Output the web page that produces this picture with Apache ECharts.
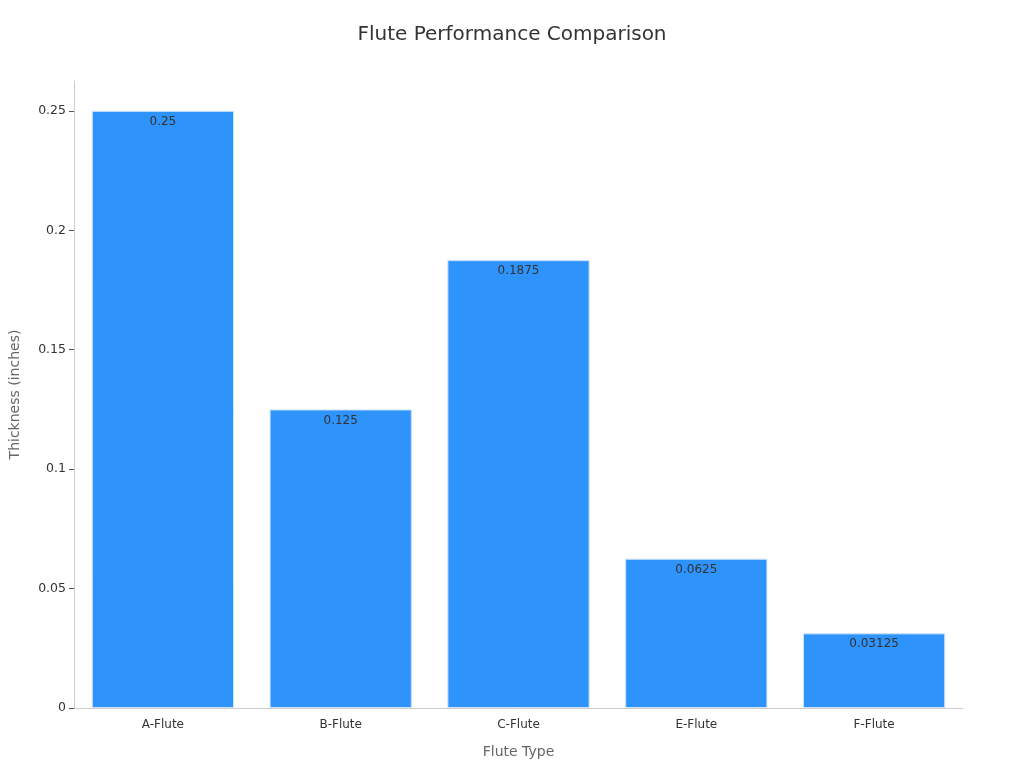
<!DOCTYPE html>
<html><head><meta charset="utf-8">
<script src="https://cdn.jsdelivr.net/npm/echarts@6/dist/echarts.min.js"></script>
<style>html,body{margin:0;padding:0;background:#fff}#c{width:1024px;height:768px}</style>
</head><body><div id="c"></div>
<script>
const categories = ['A-Flute','B-Flute','C-Flute','E-Flute','F-Flute'];
const thickness = [0.25, 0.125, 0.1875, 0.0625, 0.03125];
const yTicks = [0, 0.05, 0.1, 0.15, 0.2, 0.25];

const chart = echarts.init(document.getElementById('c'));
chart.setOption({
  textStyle:{fontFamily:'DejaVu Sans'},
  title:{text:'Flute Performance Comparison',left:'center',top:20,textStyle:{fontSize:20,fontWeight:'normal',color:'#333',fontFamily:'DejaVu Sans'}},
  grid:{left:71,right:61,top:81,bottom:60},
  xAxis:{type:'category',data:categories,name:'Flute Type',nameLocation:'middle',nameGap:37,
    nameTextStyle:{color:'#666',fontSize:14},
    axisLine:{lineStyle:{color:'#ccc'}},axisTick:{alignWithLabel:true,lineStyle:{color:'#999'}},
    axisLabel:{color:'#333',fontSize:12,margin:11}},
  yAxis:{type:'value',min:0,max:0.2625,interval:0.05,name:'Thickness (inches)',nameLocation:'middle',nameGap:52,
    nameTextStyle:{color:'#666',fontSize:14},
    axisLine:{show:true,lineStyle:{color:'#ccc'}},axisTick:{show:true,customValues:yTicks,lineStyle:{color:'#555'}},
    splitLine:{show:false},
    axisLabel:{color:'#333',fontSize:12.5,customValues:yTicks,formatter:v=>String(+v.toFixed(4))}},
  series:[{type:'bar',data:thickness,barWidth:'80%',
    itemStyle:{color:'#2e93fa',borderColor:'#cfe3fb',borderWidth:1},
    label:{show:true,position:'insideTop',color:'#333',fontSize:12,formatter:p=>String(p.value)}}]
});
</script></body></html>
